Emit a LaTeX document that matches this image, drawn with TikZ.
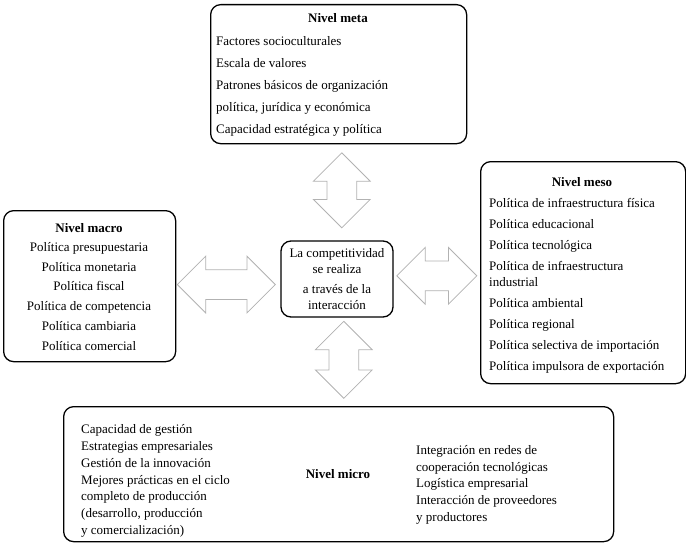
\documentclass[tikz,border=0pt]{standalone}
\usepackage{fontspec}
\setmainfont{Liberation Serif}
\usetikzlibrary{positioning, calc, shapes.arrows}

\begin{document}
\begin{tikzpicture}[x=1pt, y=-1pt,
    every node/.style = {font=\fontsize{13}{16}\selectfont, inner sep=0pt},
    level/.style = {draw, line width=1.3pt, rounded corners=10pt},
    heading/.style = {font=\fontsize{13}{16}\selectfont\bfseries},
    items/.style = {anchor=north west, align=left},
    biarrow/.style = {double arrow, draw=black!30, fill=white, line width=0.8pt,
      inner xsep=0pt, inner ysep=14.5pt,
      double arrow head extend=13.5pt, minimum width=56pt}
  ]
  \useasboundingbox (0,0) rectangle (686,543);

  % boxes of the four levels and the centre
  \node[level, anchor=north west, minimum width=256pt, minimum height=139pt] (meta) at (210,4) {};
  \node[level, anchor=north west, minimum width=172pt, minimum height=151pt] (macro) at (3,210) {};
  \node[level, anchor=north west, minimum width=205pt, minimum height=222pt] (meso) at (480,161) {};
  \node[level, anchor=north west, minimum width=550pt, minimum height=135pt] (micro) at (63,406) {};
  \node[level, align=center, minimum width=112pt, minimum height=76pt,
    font=\fontsize{13}{15.5}\selectfont] (core) at (337,279)
    {La competitividad\\se realiza\\[5pt]a través de la\\interacción};

  % nivel meta
  \node[heading] (metaTitle) at (338,18) {Nivel meta};
  \node[items, font=\fontsize{13}{22}\selectfont] (metaList) at (216,36)
    {Factores socioculturales\\Escala de valores\\Patrones básicos de organización\\
     política, jurídica y económica\\Capacidad estratégica  y política};

  % nivel macro
  \node[heading] (macroTitle) at (89,228) {Nivel macro};
  \node[align=center, anchor=north, font=\fontsize{13}{19.8}\selectfont] (macroList) at (89,242)
    {Política presupuestaria\\Política monetaria\\Política fiscal\\
     Política de competencia\\Política cambiaria\\Política comercial};

  % nivel meso
  \node[heading] (mesoTitle) at (582,182) {Nivel meso};
  \node[items, font=\fontsize{13}{21}\selectfont] (mesoList) at (489,198)
    {Política de infraestructura física\\Política educacional\\Política tecnológica\\
     Política de infraestructura\\[-5pt]industrial\\Política ambiental\\Política regional\\
     Política selectiva de importación\\Política impulsora de exportación};

  % nivel micro
  \node[heading] (microTitle) at (338,474) {Nivel micro};
  \node[items, font=\fontsize{13}{16.8}\selectfont] (microLeft) at (81,424.5)
    {Capacidad de gestión\\Estrategias  empresariales\\Gestión de la innovación\\
     Mejores prácticas  en el ciclo\\completo de producción\\(desarrollo, producción\\
     y comercialización)};
  \node[items, font=\fontsize{13}{16.8}\selectfont] (microRight) at (416,445)
    {Integración en redes de\\cooperación tecnológicas\\Logística empresarial\\
     Interacción de proveedores\\y productores};

  % arrows of interaction
  \node[biarrow, rotate=90, minimum height=75pt] (toMeta)
    at ($(meta.south)!0.5!(core.north)+(4,-2)$) {};
  \node[biarrow, rotate=90, minimum height=77pt] (toMicro)
    at ($(core.south)!0.5!(micro.north)+(6,-2)$) {};
  \node[biarrow, minimum height=80pt] (toMeso)
    at ($(core.east)!0.5!(meso.west)$) {};
  \node[biarrow, minimum height=98pt] (toMacro)
    at ($(macro.east)!0.5!(core.west)+(-2,2)$) {};
\end{tikzpicture}
\end{document}
